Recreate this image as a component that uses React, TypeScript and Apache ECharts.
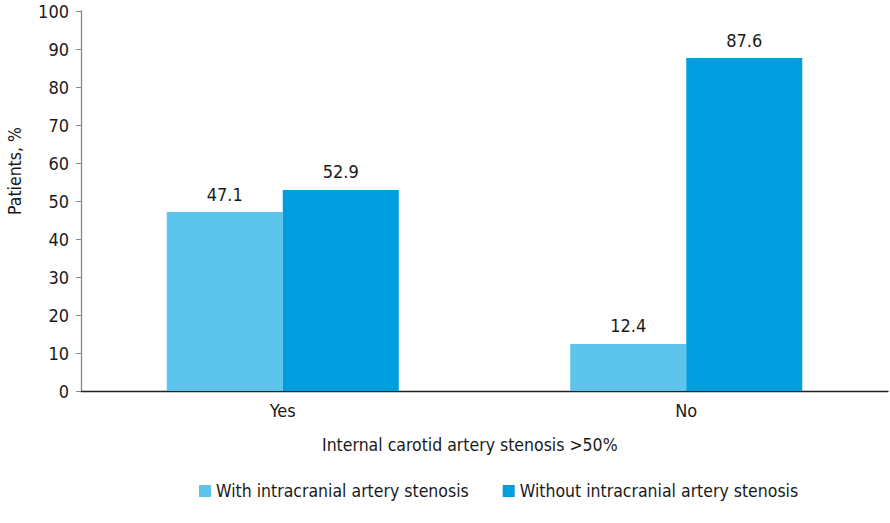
import React, { useEffect, useRef } from "react";
import * as echarts from "echarts";

const categories = ["Yes", "No"];
const withStenosis = [47.1, 12.4];
const withoutStenosis = [52.9, 87.6];
const seriesNames = ["With intracranial artery stenosis", "Without intracranial artery stenosis"];
const xAxisTitle = "Internal carotid artery stenosis >50%";
const yAxisTitle = "Patients, %";

const FONT = '"DejaVu Sans Condensed", "Liberation Sans", sans-serif';
const TEXT = "#1a1a1a";

export default function App() {
  const ref = useRef<HTMLDivElement>(null);

  useEffect(() => {
    if (!ref.current) return;
    const chart = echarts.init(ref.current, null, { renderer: "svg" });
    const valueLabel = {
      show: true,
      position: "top",
      distance: 9,
      fontFamily: FONT,
      fontSize: 18,
      color: TEXT,
      formatter: (p: any) => p.value.toFixed(1),
    };
    chart.setOption({
      animation: false,
      textStyle: { fontFamily: FONT },
      grid: { left: 81, right: 2, top: 11, bottom: 132, containLabel: false },
      legend: {
        left: 199,
        top: 482,
        padding: 0,
        icon: "rect",
        itemWidth: 12,
        itemHeight: 12,
        itemGap: 34,
        selectedMode: false,
        textStyle: { fontFamily: FONT, fontSize: 17.5, color: TEXT },
        data: seriesNames,
      },
      xAxis: {
        type: "category",
        data: categories,
        axisLine: { lineStyle: { color: "#222", width: 1.3 } },
        axisTick: { show: false },
        axisLabel: { fontFamily: FONT, fontSize: 18, color: TEXT, margin: 10 },
      },
      yAxis: {
        type: "value",
        min: 0,
        max: 100,
        interval: 10,
        splitLine: { show: false },
        axisLine: { show: true, lineStyle: { color: "#888", width: 1.3 } },
        axisTick: { show: true, length: 5, lineStyle: { color: "#888" } },
        axisLabel: { fontFamily: FONT, fontSize: 18, color: TEXT, margin: 12 },
      },
      graphic: [
        {
          type: "text",
          left: 322,
          top: 436,
          style: { text: xAxisTitle, font: `17.5px ${FONT}`, fill: TEXT },
        },
        {
          type: "text",
          x: 15,
          y: 171,
          rotation: Math.PI / 2,
          style: {
            text: yAxisTitle,
            font: `17.5px ${FONT}`,
            fill: TEXT,
            align: "center",
            verticalAlign: "middle",
          },
        },
      ],
      series: [
        {
          name: seriesNames[0],
          type: "bar",
          data: withStenosis,
          barGap: "0%",
          barCategoryGap: "42.5%",
          itemStyle: { color: "#5DC5EC" },
          label: valueLabel,
        },
        {
          name: seriesNames[1],
          type: "bar",
          data: withoutStenosis,
          barGap: "0%",
          barCategoryGap: "42.5%",
          itemStyle: { color: "#009DDF" },
          label: valueLabel,
        },
      ],
    });
    return () => chart.dispose();
  }, []);

  return <div ref={ref} style={{ width: 890, height: 523, position: "absolute", left: 0, top: 0 }} />;
}
